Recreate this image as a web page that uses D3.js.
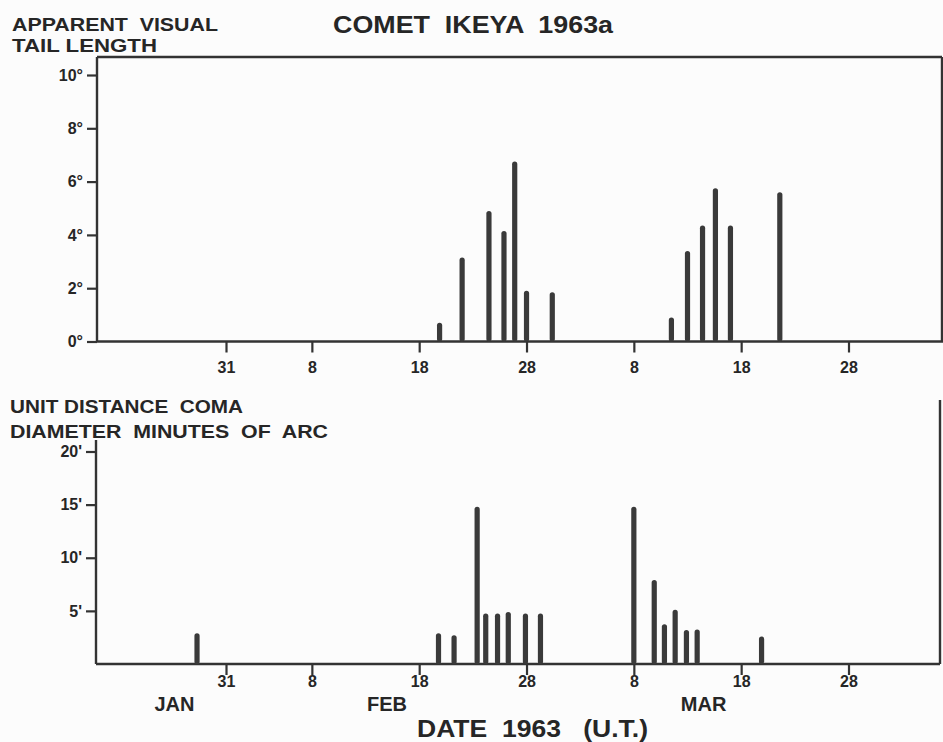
<!DOCTYPE html>
<html lang="en">
<head>
    <meta charset="UTF-8">
    <title>Comet Ikeya 1963a</title>
    <style>
      body { margin: 0; background: #fcfcfc; }
      text { font-family: "Liberation Sans", Arial, sans-serif; font-weight: bold; fill: #262626; }
    </style>
</head>
<body>
  <svg id="chart"></svg>
  <script src="https://d3js.org/d3.v7.min.js"></script>
  <script>
  // dates are day numbers on the chart's own date axis (Jan 1 = 1, ticks every 10 days from Feb 8)
  const tickDays = [31, 39, 49, 59, 69, 79, 89];
  const tickLabels = ["31", "8", "18", "28", "8", "18", "28"];
  const monthLabels = ["JAN", "FEB", "MAR"];
  const monthDays = [26.2, 46, 75.5];

  // apparent visual tail length (degrees)
  const tailDays = [50.9, 53.0, 55.5, 56.9, 57.9, 59.0, 61.4, 72.5, 74.0, 75.4, 76.6, 78.0, 82.6];
  const tailDeg = [0.7, 3.15, 4.9, 4.15, 6.75, 1.9, 1.85, 0.9, 3.4, 4.35, 5.75, 4.35, 5.6];
  const tailTicks = [0, 2, 4, 6, 8, 10];

  // unit distance coma diameter (minutes of arc)
  const comaDays = [28.3, 50.8, 52.25, 54.4, 55.2, 56.3, 57.3, 58.9, 60.3, 69.0, 70.9, 71.85, 72.85, 73.9, 74.9, 80.9];
  const comaMin = [2.9, 2.9, 2.7, 14.8, 4.75, 4.75, 4.9, 4.75, 4.75, 14.8, 7.9, 3.75, 5.1, 3.2, 3.25, 2.6];
  const comaTicks = [5, 10, 15, 20];

  const width = 943, height = 742;
  const ink = "#333";
  const barColor = "#3a3a3a";

  const svg = d3.select("#chart")
      .attr("width", width)
      .attr("height", height);

  const x = d3.scaleLinear().domain([31, 89]).range([226, 848.5]);

  // panel frames
  const upper = { left: 97, right: 942, top: 57, base: 341.5 };
  const lower = { left: 96, right: 940, top: 440, base: 664 };

  const yTail = d3.scaleLinear().domain([0, 10]).range([upper.base, 75]);
  const yComa = d3.scaleLinear().domain([0, 20]).range([lower.base, 451.5]);

  function line(x1, y1, x2, y2) {
    svg.append("line")
      .attr("x1", x1).attr("y1", y1).attr("x2", x2).attr("y2", y2)
      .attr("stroke", ink).attr("stroke-width", 2.4);
  }

  // upper panel: closed box
  line(upper.left, upper.top, upper.right, upper.top);
  line(upper.left, upper.top, upper.left, upper.base);
  line(upper.right, upper.top, upper.right, upper.base);
  line(upper.left, upper.base, upper.right + 1, upper.base);

  // lower panel: no top edge
  line(lower.left, lower.top, lower.left, lower.base);
  line(lower.right, 400, lower.right, lower.base);
  line(lower.left, lower.base, lower.right, lower.base);

  function styleAxis(g) {
    g.select(".domain").remove();
    g.selectAll(".tick line").attr("stroke", ink).attr("stroke-width", 2.2);
    g.selectAll(".tick text").attr("font-size", 16).attr("fill", "#262626")
      .attr("font-family", "'Liberation Sans', Arial, sans-serif").attr("font-weight", "bold");
  }

  const xAxis = d3.axisBottom(x)
      .tickValues(tickDays)
      .tickFormat((d, i) => tickLabels[i])
      .tickSize(11)
      .tickPadding(9);

  svg.append("g").attr("transform", `translate(0,${upper.base})`).call(xAxis).call(styleAxis);
  svg.append("g").attr("transform", `translate(0,${lower.base})`).call(xAxis.tickPadding(1)).call(styleAxis);

  svg.append("g").attr("transform", `translate(${upper.left},0)`)
    .call(d3.axisLeft(yTail).tickValues(tailTicks).tickFormat(d => d + "°").tickSize(10).tickPadding(4))
    .call(styleAxis);
  svg.append("g").attr("transform", `translate(${lower.left},0)`)
    .call(d3.axisLeft(yComa).tickValues(comaTicks).tickFormat(d => d + "'").tickSize(10).tickPadding(4))
    .call(styleAxis);

  // bars
  function bars(days, vals, y) {
    svg.append("g")
      .selectAll("rect")
      .data(days.map((d, i) => ({ day: d, v: vals[i] })))
      .join("rect")
        .attr("x", d => x(d.day) - 2.6)
        .attr("y", d => y(d.v))
        .attr("width", 5.2)
        .attr("height", d => y(0) - y(d.v))
        .attr("rx", 2.6)
        .attr("fill", barColor);
  }
  bars(tailDays, tailDeg, yTail);
  bars(comaDays, comaMin, yComa);

  // labels
  function label(txt, x0, y0, len, size) {
    svg.append("text")
      .attr("x", x0).attr("y", y0)
      .attr("font-size", size)
      .attr("textLength", len)
      .attr("lengthAdjust", "spacingAndGlyphs")
      .style("white-space", "pre")
      .text(txt);
  }
  label("APPARENT  VISUAL", 12, 31, 206, 19);
  label("TAIL LENGTH", 12, 51.5, 145, 19);
  label("COMET  IKEYA  1963a", 333, 33, 280, 23);
  label("UNIT DISTANCE  COMA", 10, 413, 233, 19);
  label("DIAMETER  MINUTES  OF  ARC", 10, 437.5, 318, 19);
  label("DATE  1963   (U.T.)", 417, 737, 231, 23);

  svg.append("g")
    .selectAll("text")
    .data(monthLabels)
    .join("text")
      .attr("x", (d, i) => x(monthDays[i]))
      .attr("y", 711)
      .attr("text-anchor", "middle")
      .attr("font-size", 20)
      .text(d => d);
  </script>
</body>
</html>
